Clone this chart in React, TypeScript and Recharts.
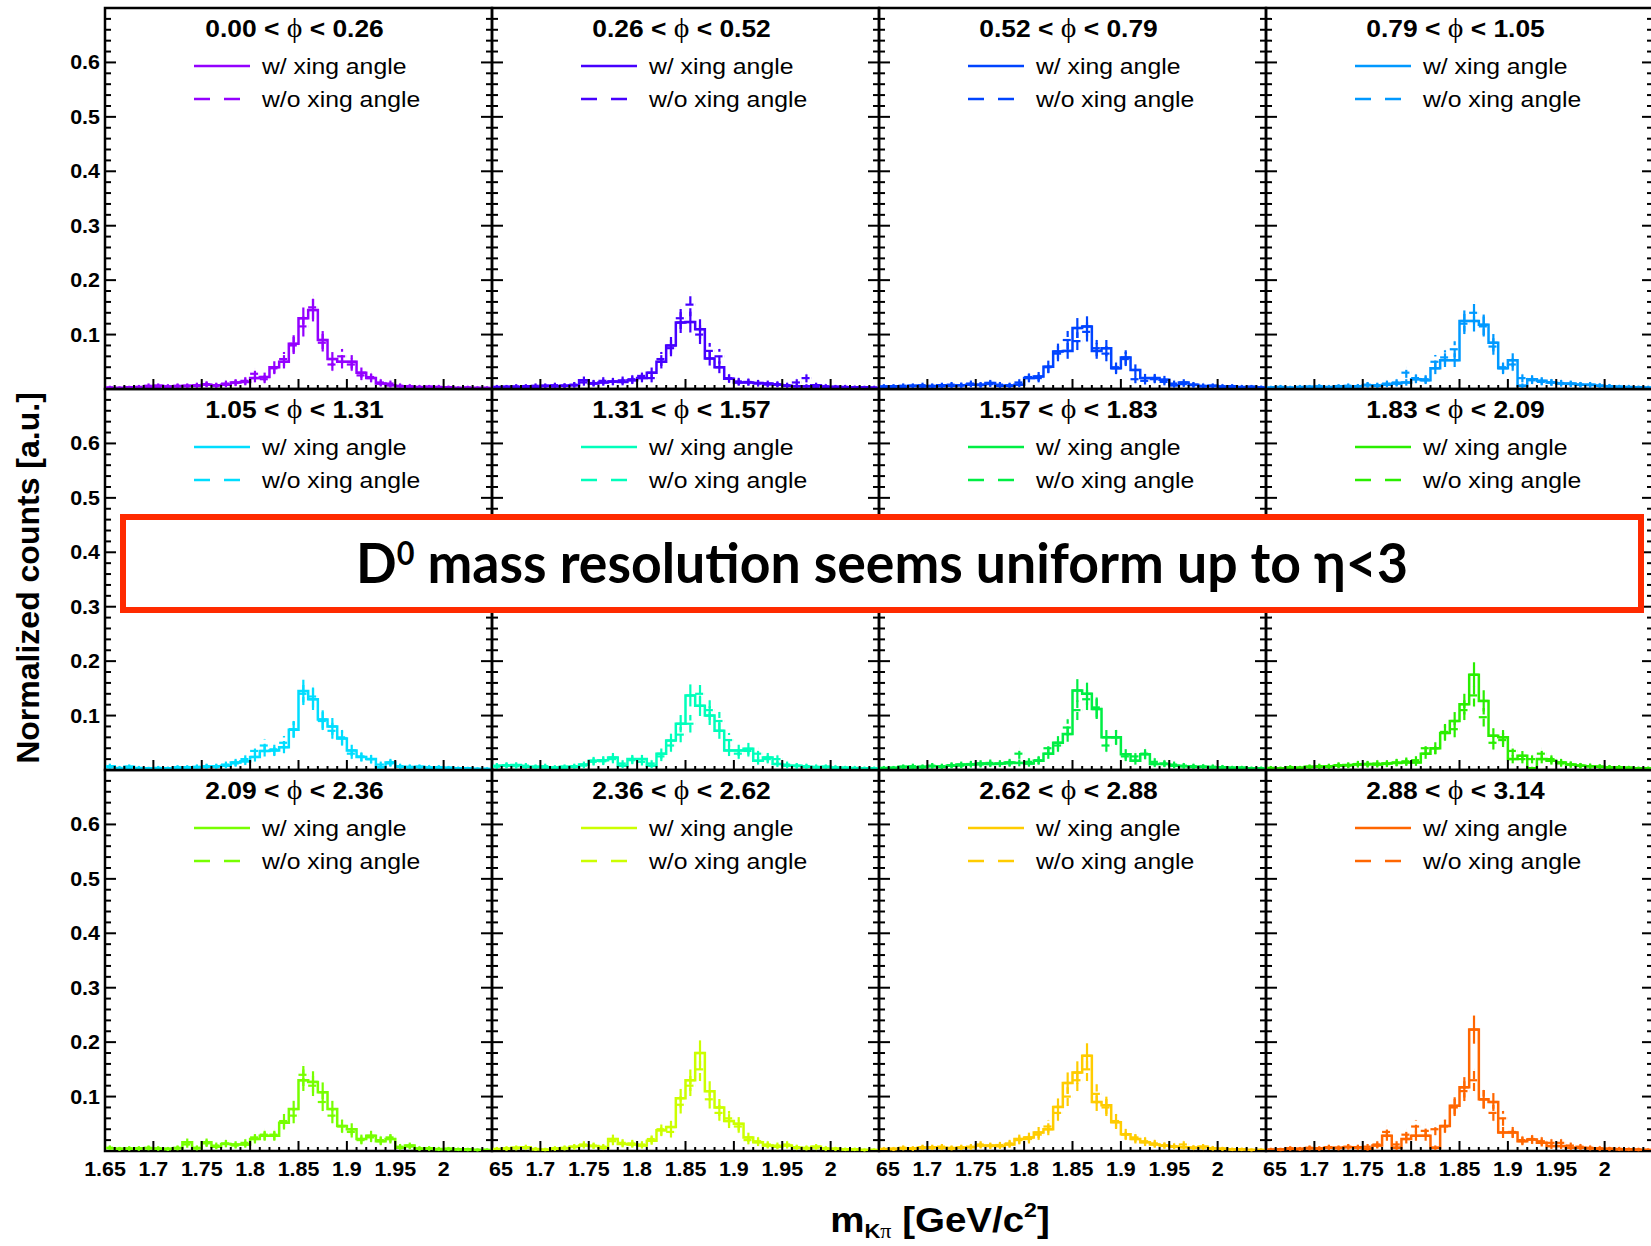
import React from "react";
import { ComposedChart, Line, Scatter, ErrorBar, XAxis, YAxis, ReferenceArea } from "recharts";

// bin centres of m_Kpi [GeV/c^2], 10 MeV bins
const massBins = [
  1.655, 1.665, 1.675, 1.685, 1.695, 1.705, 1.715, 1.725, 1.735, 1.745,
  1.755, 1.765, 1.775, 1.785, 1.795, 1.805, 1.815, 1.825, 1.835, 1.845,
  1.855, 1.865, 1.875, 1.885, 1.895, 1.905, 1.915, 1.925, 1.935, 1.945,
  1.955, 1.965, 1.975, 1.985, 1.995, 2.005, 2.015, 2.025, 2.035, 2.045,
];

const phiLow = ["0.00", "0.26", "0.52", "0.79", "1.05", "1.31", "1.57", "1.83", "2.09", "2.36", "2.62", "2.88"];
const phiHigh = ["0.26", "0.52", "0.79", "1.05", "1.31", "1.57", "1.83", "2.09", "2.36", "2.62", "2.88", "3.14"];

const panelColors = [
  "#9400ff", "#4600ff", "#0044ff", "#0099ff",
  "#00ddff", "#00ffbb", "#00ee44", "#2aee00",
  "#77ff00", "#ccff00", "#ffcc00", "#ff6600",
];

const withXing = [
  [0.002, 0.002, 0.003, 0.002, 0.004, 0.006, 0.004, 0.005, 0.006, 0.006,
   0.008, 0.007, 0.008, 0.012, 0.013, 0.020, 0.022, 0.040, 0.050, 0.083,
   0.130, 0.145, 0.090, 0.055, 0.050, 0.050, 0.030, 0.020, 0.010, 0.007,
   0.005, 0.004, 0.003, 0.004, 0.003, 0.003, 0.002, 0.002, 0.002, 0.002],
  [0.003, 0.004, 0.003, 0.005, 0.004, 0.006, 0.005, 0.006, 0.007, 0.016,
   0.010, 0.012, 0.014, 0.013, 0.016, 0.020, 0.030, 0.050, 0.080, 0.122,
   0.123, 0.110, 0.056, 0.040, 0.019, 0.012, 0.012, 0.011, 0.010, 0.008,
   0.006, 0.005, 0.005, 0.007, 0.004, 0.004, 0.003, 0.003, 0.003, 0.002],
  [0.004, 0.005, 0.004, 0.006, 0.005, 0.005, 0.007, 0.006, 0.007, 0.008,
   0.008, 0.011, 0.006, 0.006, 0.008, 0.020, 0.023, 0.041, 0.069, 0.070,
   0.112, 0.115, 0.070, 0.075, 0.038, 0.058, 0.035, 0.020, 0.020, 0.017,
   0.007, 0.012, 0.008, 0.005, 0.006, 0.004, 0.005, 0.003, 0.004, 0.003],
  [0.003, 0.003, 0.002, 0.003, 0.004, 0.004, 0.003, 0.005, 0.004, 0.005,
   0.007, 0.006, 0.008, 0.010, 0.012, 0.018, 0.016, 0.038, 0.053, 0.053,
   0.125, 0.125, 0.118, 0.085, 0.038, 0.053, 0.006, 0.018, 0.015, 0.012,
   0.010, 0.010, 0.008, 0.008, 0.006, 0.005, 0.004, 0.003, 0.003, 0.002],
  [0.007, 0.002, 0.006, 0.003, 0.003, 0.003, 0.003, 0.004, 0.005, 0.005,
   0.006, 0.007, 0.008, 0.014, 0.016, 0.024, 0.035, 0.036, 0.042, 0.074,
   0.145, 0.130, 0.093, 0.080, 0.058, 0.036, 0.024, 0.020, 0.005, 0.014,
   0.006, 0.005, 0.006, 0.004, 0.005, 0.004, 0.003, 0.003, 0.002, 0.002],
  [0.008, 0.008, 0.009, 0.006, 0.006, 0.005, 0.004, 0.006, 0.006, 0.010,
   0.017, 0.018, 0.023, 0.008, 0.020, 0.020, 0.008, 0.030, 0.054, 0.085,
   0.137, 0.118, 0.100, 0.072, 0.036, 0.036, 0.039, 0.017, 0.023, 0.011,
   0.008, 0.008, 0.006, 0.005, 0.006, 0.004, 0.004, 0.003, 0.003, 0.003],
  [0.003, 0.004, 0.006, 0.005, 0.006, 0.007, 0.006, 0.008, 0.010, 0.010,
   0.012, 0.011, 0.012, 0.014, 0.013, 0.012, 0.017, 0.030, 0.050, 0.066,
   0.146, 0.140, 0.112, 0.060, 0.060, 0.029, 0.017, 0.029, 0.011, 0.011,
   0.008, 0.007, 0.006, 0.006, 0.005, 0.005, 0.004, 0.004, 0.003, 0.003],
  [0.003, 0.003, 0.004, 0.004, 0.006, 0.006, 0.007, 0.008, 0.009, 0.010,
   0.011, 0.010, 0.012, 0.013, 0.014, 0.014, 0.030, 0.040, 0.068, 0.090,
   0.121, 0.175, 0.127, 0.063, 0.060, 0.020, 0.026, 0.003, 0.020, 0.017,
   0.014, 0.010, 0.008, 0.007, 0.006, 0.005, 0.005, 0.004, 0.003, 0.003],
  [0.005, 0.004, 0.004, 0.005, 0.005, 0.004, 0.004, 0.005, 0.016, 0.005,
   0.016, 0.008, 0.013, 0.012, 0.012, 0.022, 0.028, 0.028, 0.052, 0.077,
   0.130, 0.127, 0.108, 0.077, 0.046, 0.040, 0.022, 0.028, 0.018, 0.022,
   0.006, 0.010, 0.004, 0.005, 0.003, 0.004, 0.003, 0.003, 0.002, 0.002],
  [0.003, 0.004, 0.006, 0.007, 0.003, 0.002, 0.004, 0.005, 0.008, 0.010,
   0.009, 0.006, 0.022, 0.013, 0.012, 0.010, 0.019, 0.038, 0.044, 0.097,
   0.130, 0.180, 0.110, 0.080, 0.055, 0.050, 0.025, 0.016, 0.010, 0.008,
   0.010, 0.006, 0.005, 0.008, 0.004, 0.004, 0.003, 0.003, 0.002, 0.002],
  [0.003, 0.004, 0.005, 0.005, 0.006, 0.007, 0.006, 0.005, 0.006, 0.007,
   0.010, 0.010, 0.009, 0.012, 0.022, 0.025, 0.034, 0.040, 0.081, 0.125,
   0.144, 0.175, 0.090, 0.084, 0.053, 0.031, 0.022, 0.016, 0.012, 0.010,
   0.008, 0.007, 0.006, 0.008, 0.005, 0.004, 0.003, 0.003, 0.002, 0.002],
  [0.002, 0.003, 0.004, 0.004, 0.005, 0.005, 0.006, 0.006, 0.007, 0.007,
   0.004, 0.010, 0.028, 0.006, 0.022, 0.028, 0.028, 0.006, 0.046, 0.083,
   0.117, 0.223, 0.095, 0.090, 0.034, 0.034, 0.018, 0.021, 0.015, 0.009,
   0.009, 0.006, 0.006, 0.005, 0.004, 0.004, 0.003, 0.003, 0.002, 0.002],
];

const withoutXing = [
  [0.003, 0.002, 0.002, 0.004, 0.006, 0.003, 0.005, 0.006, 0.005, 0.007,
   0.009, 0.006, 0.010, 0.011, 0.015, 0.028, 0.018, 0.038, 0.055, 0.080,
   0.115, 0.150, 0.085, 0.045, 0.060, 0.045, 0.025, 0.022, 0.012, 0.010,
   0.006, 0.005, 0.004, 0.003, 0.004, 0.003, 0.002, 0.003, 0.002, 0.002],
  [0.004, 0.003, 0.005, 0.004, 0.006, 0.005, 0.007, 0.006, 0.008, 0.012,
   0.011, 0.015, 0.013, 0.016, 0.018, 0.024, 0.020, 0.055, 0.075, 0.130,
   0.155, 0.100, 0.070, 0.060, 0.020, 0.014, 0.013, 0.010, 0.008, 0.009,
   0.007, 0.012, 0.020, 0.004, 0.005, 0.003, 0.004, 0.003, 0.002, 0.003],
  [0.005, 0.004, 0.006, 0.005, 0.007, 0.006, 0.005, 0.008, 0.007, 0.010,
   0.007, 0.009, 0.008, 0.007, 0.012, 0.022, 0.020, 0.040, 0.065, 0.090,
   0.088, 0.105, 0.075, 0.065, 0.040, 0.055, 0.018, 0.015, 0.018, 0.013,
   0.010, 0.009, 0.007, 0.006, 0.005, 0.005, 0.004, 0.004, 0.003, 0.003],
  [0.002, 0.004, 0.003, 0.004, 0.003, 0.005, 0.004, 0.004, 0.006, 0.005,
   0.008, 0.007, 0.010, 0.012, 0.030, 0.020, 0.018, 0.050, 0.058, 0.073,
   0.120, 0.140, 0.115, 0.078, 0.040, 0.045, 0.020, 0.016, 0.013, 0.012,
   0.011, 0.009, 0.008, 0.007, 0.006, 0.005, 0.004, 0.004, 0.003, 0.003],
  [0.005, 0.004, 0.003, 0.004, 0.002, 0.004, 0.003, 0.005, 0.004, 0.006,
   0.007, 0.006, 0.010, 0.012, 0.020, 0.035, 0.045, 0.038, 0.050, 0.075,
   0.140, 0.135, 0.090, 0.072, 0.060, 0.030, 0.025, 0.020, 0.010, 0.012,
   0.007, 0.006, 0.005, 0.005, 0.004, 0.003, 0.003, 0.002, 0.002, 0.002],
  [0.006, 0.009, 0.007, 0.008, 0.005, 0.007, 0.005, 0.004, 0.007, 0.008,
   0.015, 0.016, 0.020, 0.012, 0.018, 0.015, 0.012, 0.025, 0.045, 0.065,
   0.085, 0.140, 0.110, 0.090, 0.055, 0.030, 0.035, 0.030, 0.020, 0.020,
   0.010, 0.007, 0.007, 0.006, 0.005, 0.005, 0.004, 0.004, 0.003, 0.003],
  [0.004, 0.003, 0.005, 0.007, 0.005, 0.008, 0.007, 0.009, 0.008, 0.011,
   0.010, 0.013, 0.011, 0.012, 0.030, 0.015, 0.018, 0.040, 0.045, 0.078,
   0.110, 0.130, 0.115, 0.045, 0.060, 0.025, 0.025, 0.030, 0.015, 0.012,
   0.010, 0.008, 0.007, 0.006, 0.006, 0.005, 0.004, 0.004, 0.003, 0.003],
  [0.004, 0.003, 0.005, 0.004, 0.005, 0.007, 0.006, 0.009, 0.008, 0.011,
   0.010, 0.012, 0.011, 0.014, 0.016, 0.018, 0.040, 0.040, 0.070, 0.075,
   0.110, 0.137, 0.097, 0.050, 0.055, 0.035, 0.020, 0.020, 0.030, 0.020,
   0.012, 0.010, 0.008, 0.007, 0.006, 0.005, 0.004, 0.004, 0.003, 0.003],
  [0.006, 0.004, 0.005, 0.004, 0.006, 0.005, 0.003, 0.006, 0.012, 0.006,
   0.014, 0.010, 0.014, 0.010, 0.015, 0.025, 0.030, 0.030, 0.055, 0.065,
   0.140, 0.120, 0.090, 0.065, 0.045, 0.035, 0.020, 0.025, 0.020, 0.025,
   0.008, 0.008, 0.005, 0.004, 0.004, 0.003, 0.003, 0.002, 0.002, 0.002],
  [0.004, 0.005, 0.005, 0.006, 0.004, 0.003, 0.005, 0.006, 0.007, 0.012,
   0.010, 0.008, 0.018, 0.015, 0.014, 0.012, 0.022, 0.040, 0.035, 0.085,
   0.120, 0.150, 0.095, 0.070, 0.060, 0.045, 0.020, 0.018, 0.012, 0.010,
   0.012, 0.007, 0.006, 0.006, 0.005, 0.004, 0.003, 0.003, 0.002, 0.002],
  [0.004, 0.003, 0.006, 0.004, 0.007, 0.006, 0.008, 0.006, 0.007, 0.008,
   0.012, 0.009, 0.011, 0.014, 0.020, 0.022, 0.030, 0.045, 0.070, 0.100,
   0.130, 0.150, 0.105, 0.080, 0.055, 0.030, 0.025, 0.018, 0.014, 0.010,
   0.009, 0.012, 0.006, 0.006, 0.005, 0.004, 0.003, 0.003, 0.002, 0.002],
  [0.003, 0.002, 0.005, 0.003, 0.006, 0.004, 0.007, 0.005, 0.008, 0.006,
   0.008, 0.012, 0.035, 0.012, 0.030, 0.045, 0.037, 0.040, 0.045, 0.080,
   0.110, 0.130, 0.095, 0.070, 0.060, 0.035, 0.020, 0.022, 0.018, 0.015,
   0.015, 0.010, 0.008, 0.006, 0.005, 0.004, 0.004, 0.003, 0.003, 0.002],
];

const xTickLabels = [1.65, 1.7, 1.75, 1.8, 1.85, 1.9, 1.95, 2];
const yTickLabels = [0.1, 0.2, 0.3, 0.4, 0.5, 0.6];

// minor tick positions (unlabelled): 0.01 on x, 0.02 on y
const xTicks: number[] = [];
for (let i = 0; i <= 40; i++) xTicks.push(Math.round((1.65 + i * 0.01) * 100) / 100);
const yTicks: number[] = [];
for (let i = 0; i <= 35; i++) yTicks.push(Math.round(i * 2) / 100);

const HALF_BIN = 0.005;
const ERR_SCALE = 0.003; // normalised poisson errors
const poissonErr = (v: number) => Math.sqrt(v * ERR_SCALE);

const PLOT_LEFT = 105;
const PLOT_TOP = 8;
const PW = 387;
const PH = 381;
const AXIS_W = 100;
const AXIS_H = 100;
const PAD = 3;
const SX = 1.1;

const SANS = "'Liberation Sans', Arial, Helvetica, sans-serif";
const SERIF = "'Liberation Serif', 'DejaVu Serif', serif";

const noMarker = () => <g />;

function XTick(props: any) {
  const { x, y, payload, row, col } = props;
  const v = payload.value;
  const major = Math.round(v * 100) % 5 === 0;
  const isLabel = row === 2 && xTickLabels.some((t) => Math.abs(t - v) < 1e-6);
  const clipFirst = col > 0 && Math.abs(v - 1.65) < 1e-6;
  const cid = `xclip-${row}-${col}`;
  return (
    <g>
      <line x1={x} x2={x} y1={y} y2={y - (major ? 10 : 4)} stroke="#000" strokeWidth={2} />
      {isLabel && (
        <g clipPath={clipFirst ? `url(#${cid})` : undefined}>
          {clipFirst && (
            <defs>
              <clipPath id={cid}>
                <rect x={x - 3} y={y} width={60} height={40} />
              </clipPath>
            </defs>
          )}
          <text
            transform={`translate(${x},${y + 25}) scale(${SX},1)`}
            textAnchor="middle"
            fontFamily={SANS}
            fontWeight="bold"
            fontSize={19.5}
            fill="#000"
          >
            {String(v)}
          </text>
        </g>
      )}
    </g>
  );
}

function YTick(props: any) {
  const { x, y, payload, col, side } = props;
  const v = payload.value;
  const major = Math.round(v * 100) % 10 === 0;
  const len = major ? 11 : 6;
  const dir = side === "left" ? 1 : -1;
  const isLabel = side === "left" && col === 0 && yTickLabels.some((t) => Math.abs(t - v) < 1e-6);
  return (
    <g>
      <line x1={x} x2={x + dir * len} y1={y} y2={y} stroke="#000" strokeWidth={2} />
      {isLabel && (
        <text
          transform={`translate(${x - 5},${y + 7}) scale(${SX},1)`}
          textAnchor="end"
          fontFamily={SANS}
          fontWeight="bold"
          fontSize={19.5}
          fill="#000"
        >
          {String(v)}
        </text>
      )}
    </g>
  );
}

function Panel({ idx }: { idx: number }) {
  const row = Math.floor(idx / 4);
  const col = idx % 4;
  const color = panelColors[idx];
  const data = massBins.map((m, i) => {
    const a = withXing[idx][i];
    const b = withoutXing[idx][i];
    return { m, a, b, ea: poissonErr(a), eb: poissonErr(b), hw: HALF_BIN };
  });
  return (
    <div style={{ position: "absolute", left: PLOT_LEFT + col * PW - AXIS_W, top: PLOT_TOP + row * PH - PAD }}>
      <ComposedChart
        width={AXIS_W + PW + PAD}
        height={PAD + PH + AXIS_H}
        data={data}
        margin={{ top: PAD, right: PAD, bottom: 0, left: 0 }}
      >
        <XAxis
          dataKey="m"
          type="number"
          domain={[1.65, 2.05]}
          allowDataOverflow
          ticks={xTicks}
          interval={0}
          height={AXIS_H}
          tickLine={false}
          axisLine={false}
          tickSize={0}
          tickMargin={0}
          tick={(p: any) => <XTick {...p} row={row} col={col} />}
        />
        <YAxis
          type="number"
          domain={[0, 0.7]}
          allowDataOverflow
          ticks={yTicks}
          interval={0}
          width={AXIS_W}
          tickLine={false}
          axisLine={false}
          tickSize={0}
          tickMargin={0}
          tick={(p: any) => <YTick {...p} col={col} side="left" />}
        />
        <YAxis
          yAxisId="right"
          orientation="right"
          mirror
          type="number"
          domain={[0, 0.7]}
          allowDataOverflow
          ticks={yTicks}
          interval={0}
          width={1}
          tickLine={false}
          axisLine={false}
          tickSize={0}
          tickMargin={0}
          tick={(p: any) => <YTick {...p} col={col} side="right" />}
        />
        <Line
          type="step"
          dataKey="a"
          stroke={color}
          strokeWidth={2.5}
          dot={false}
          isAnimationActive={false}
        />
        <Scatter dataKey="a" shape={noMarker} isAnimationActive={false}>
          <ErrorBar dataKey="ea" direction="y" width={0} stroke={color} strokeWidth={2.2} isAnimationActive={false} />
          <ErrorBar dataKey="hw" direction="x" width={0} stroke={color} strokeWidth={2.2} isAnimationActive={false} />
        </Scatter>
        <Scatter dataKey="b" shape={noMarker} isAnimationActive={false}>
          <ErrorBar dataKey="eb" direction="y" width={0} stroke={color} strokeWidth={2.2} strokeDasharray="8 4" isAnimationActive={false} />
          <ErrorBar dataKey="hw" direction="x" width={0} stroke={color} strokeWidth={2.2} strokeDasharray="8 4" isAnimationActive={false} />
        </Scatter>
        <ReferenceArea x1={1.65} x2={2.05} y1={0} y2={0.7} fill="none" stroke="#000" strokeWidth={2.5} ifOverflow="visible" />
      </ComposedChart>
    </div>
  );
}

function Overlay() {
  return (
    <svg width={1651} height={1246} style={{ position: "absolute", left: 0, top: 0, pointerEvents: "none" }}>
      {phiLow.map((lo, idx) => {
        const row = Math.floor(idx / 4);
        const col = idx % 4;
        const left = PLOT_LEFT + col * PW;
        const top = PLOT_TOP + row * PH;
        const color = panelColors[idx];
        return (
          <g key={idx}>
            <text
              transform={`translate(${left + PW / 2 - 4},${top + 29}) scale(${SX},1)`}
              textAnchor="middle"
              fontFamily={SANS}
              fontWeight="bold"
              fontSize={24}
              fill="#000"
            >
              {`${lo} < `}
              <tspan fontFamily={SERIF} fontWeight="normal" fontSize={27}>ϕ</tspan>
              {` < ${phiHigh[idx]}`}
            </text>
            <line x1={left + 89} x2={left + 145} y1={top + 58} y2={top + 58} stroke={color} strokeWidth={2.5} />
            <line x1={left + 89} x2={left + 145} y1={top + 91} y2={top + 91} stroke={color} strokeWidth={2.5} strokeDasharray="16 14" />
            <text transform={`translate(${left + 157},${top + 66}) scale(${SX},1)`} fontFamily={SANS} fontSize={22.5} fill="#000">
              w/ xing angle
            </text>
            <text transform={`translate(${left + 157},${top + 99}) scale(${SX},1)`} fontFamily={SANS} fontSize={22.5} fill="#000">
              w/o xing angle
            </text>
          </g>
        );
      })}
      <text
        transform="translate(39,578) rotate(-90)"
        textAnchor="middle"
        fontFamily={SANS}
        fontWeight="bold"
        fontSize={32}
        fill="#000"
      >
        Normalized counts [a.u.]
      </text>
      <text
        transform={`translate(940,1232) scale(${SX},1)`}
        textAnchor="middle"
        fontFamily={SANS}
        fontWeight="bold"
        fontSize={35}
        fill="#000"
      >
        m
        <tspan fontSize={20} dy={6}>K</tspan>
        <tspan fontSize={20} fontFamily={SERIF} fontWeight="normal">π</tspan>
        <tspan dy={-6}> [GeV/c</tspan>
        <tspan fontSize={21} dy={-15}>2</tspan>
        <tspan dy={15}>]</tspan>
      </text>
      <rect x={123} y={517} width={1518} height={93} fill="#fff" stroke="#ff2a00" strokeWidth={6} />
      <text
        x={882}
        y={583}
        textAnchor="middle"
        fontFamily="Lato, 'Open Sans', sans-serif"
        fontWeight="bold"
        fontSize={56}
        fill="#000"
        textLength={1052}
        lengthAdjust="spacingAndGlyphs"
      >
        D
        <tspan fontSize={32} dy={-18}>0</tspan>
        <tspan dy={18}> mass resolution seems uniform up to η&lt;3</tspan>
      </text>
    </svg>
  );
}

export default function App() {
  return (
    <div
      style={{
        position: "absolute",
        left: 0,
        top: 0,
        width: 1651,
        height: 1246,
        background: "#fff",
        overflow: "hidden",
      }}
    >
      {phiLow.map((_, idx) => (
        <Panel key={idx} idx={idx} />
      ))}
      <Overlay />
    </div>
  );
}
